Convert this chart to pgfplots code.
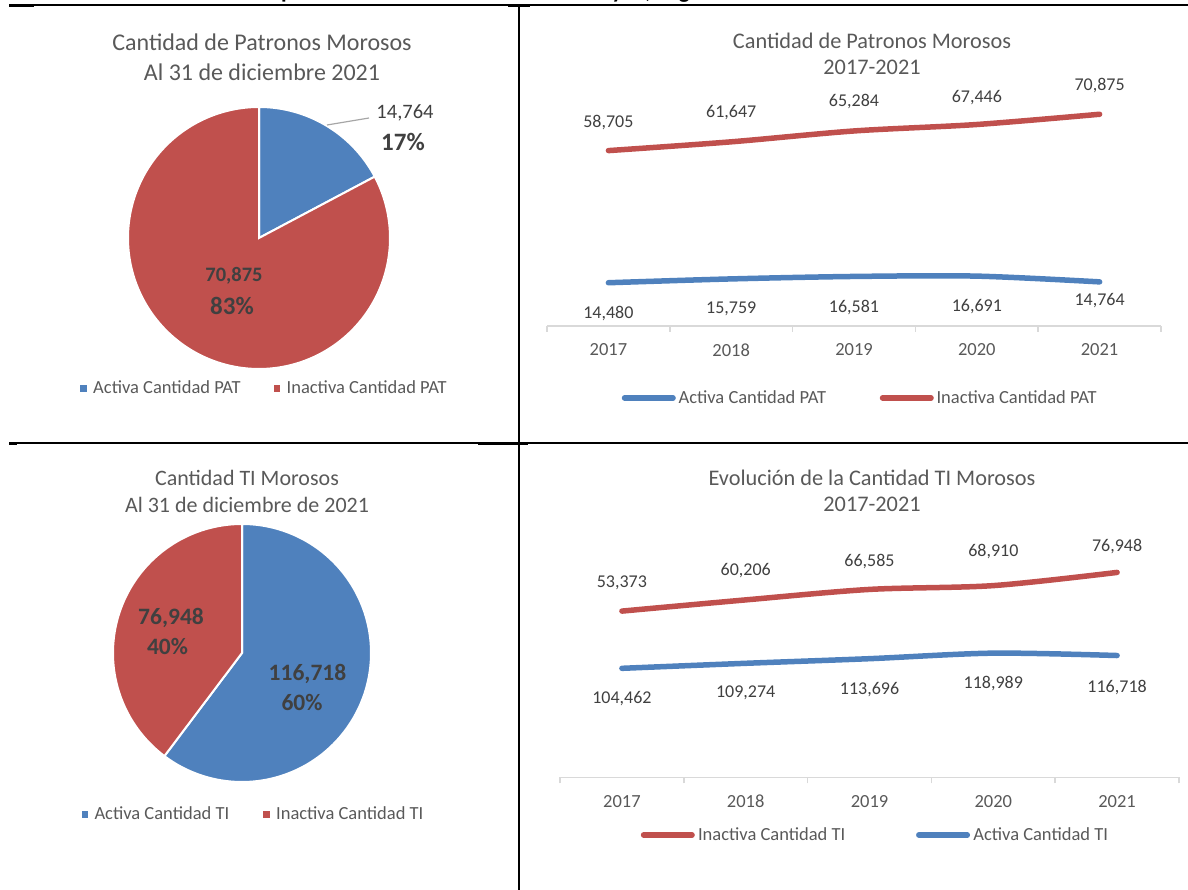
\documentclass[border=0pt]{standalone}
\usepackage{pgfplots}
\usepackage{pgfplotstable}
\pgfplotsset{compat=1.18}
\usepackage{fontspec}
\setmainfont{Carlito}
\definecolor{cblue}{HTML}{4F81BD}
\definecolor{cred}{HTML}{C0504D}
\definecolor{tgray}{HTML}{595959}
\definecolor{dgray}{HTML}{404040}
\definecolor{agray}{HTML}{D9D9D9}
\definecolor{lgray}{HTML}{A6A6A6}
\newcommand{\fs}[1]{\fontsize{#1}{#1}\selectfont}

% pie values
\def\patActiva{14764}
\def\patInactiva{70875}
\def\tiActiva{116718}
\def\tiInactiva{76948}

\pgfplotstableread{
x y dy
0 14480 -30.3
1 15759 -30.1
2 16581 -30.6
3 16691 -30.4
4 14764 -19.1
}\patA
\pgfplotstableread{
x y dy
0 58705 28.5
1 61647 29.7
2 65284 29.8
3 67446 27.3
4 70875 29.1
}\patI
\pgfplotstableread{
x y dy
0 104462 -30.7
1 109274 -29.7
2 113696 -31.3
3 118989 -30.8
4 116718 -31.5
}\tiA
\pgfplotstableread{
x y dy
0 53373 28.1
1 60206 28.9
2 66585 28.4
3 68910 34.6
4 76948 26.4
}\tiI

\pgfplotsset{
  linechart/.style={
    scale only axis, clip=false,
    xmin=-0.5, xmax=4.5,
    /pgf/number format/assume math mode=true,
    legend columns=2,
    legend image code/.code={\draw[##1, line cap=round] (2.75pt,0pt) -- (51.25pt,0pt); \path (0pt,0pt) (54pt,0pt);},
  },
  xaxisstyle/.style={
    axis x line=bottom, axis y line=none,
    axis line style={-, agray, line width=1.5pt},
    xtick={0,1,2,3,4}, xticklabels={2017,2018,2019,2020,2021},
    minor xtick={-0.5,0.5,1.5,2.5,3.5,4.5},
    major tick length=0pt, minor tick length=6pt, tick align=outside,
    tick style={agray, line width=1.5pt},
    xticklabel style={font=\fs{18.5}, text=tgray, anchor=center, yshift=-24pt},
  },
  labline/.style={
    forget plot, line width=5.5pt, line cap=round, smooth, tension=0.5, mark=none,
    visualization depends on={\thisrow{dy}\as\dy},
    nodes near coords={\pgfmathprintnumber[fixed, precision=0, 1000 sep={,}, assume math mode=true]{\pgfplotspointmeta}},
    every node near coord/.append style={font=\fs{18}, text=dgray, anchor=center, yshift=\dy},
  },
  pielegend/.style={
    legend columns=2,
    legend image code/.code={\fill[##1] (0pt,-2.75pt) rectangle (5.5pt,2.75pt);},
  },
}

\begin{document}
\begin{tikzpicture}[x=1pt,y=1pt]

% cut-off document heading
\node[anchor=base, font=\bfseries\fs{23}, text=black, inner sep=0pt] at (607pt,891.5pt)
  {Composición de la Morosidad Patronal y TI, Según Condición Activa o Inactiva};

% table grid
\draw[line width=1.5pt] (9pt,885pt) -- (1188pt,885pt);
\draw[line width=1.5pt] (9pt,447pt) -- (1188pt,447pt);
\draw[line width=1.5pt] (519pt,884pt) -- (519pt,0pt);
\draw[line width=2.5pt] (9pt,884pt) -- (34pt,884pt);
\draw[line width=2.5pt] (508pt,884pt) -- (530pt,884pt);
\draw[line width=2.5pt] (9pt,446.5pt) -- (17pt,446.5pt);
\draw[line width=2.5pt] (478pt,446.5pt) -- (528pt,446.5pt);

% angles (floating point, values are large)
{\pgfkeys{/pgf/fpu=true,/pgf/fpu/output format=fixed}%
 \pgfmathparse{90-360*\patActiva/(\patActiva+\patInactiva)}\xdef\pa{\pgfmathresult}%
 \pgfmathparse{90-360*\tiActiva/(\tiActiva+\tiInactiva)}\xdef\pb{\pgfmathresult}}
\pgfmathsetmacro{\paa}{\pa+360}
\pgfmathsetmacro{\pbb}{\pb+360}

% ---------- Pie 1 ----------
\begin{axis}[at={(259pt,652pt)}, anchor=center, scale only axis, width=262pt, height=262pt,
  hide axis, xmin=-1, xmax=1, ymin=-1, ymax=1, clip=false, pielegend,
  legend style={draw=none, fill=none, inner sep=0pt, column sep=0pt, nodes={inner sep=0pt},
    at={(axis description cs:0.5172,-0.0725)}, anchor=center,
    font=\fs{18.5}, text=tgray,
    /tikz/every odd column/.append style={column sep=7pt},
    /tikz/every even column/.append style={column sep=33pt}}]
\addplot[forget plot, fill=cblue, draw=white, line width=2pt, domain=\pa:90, samples=120, variable=\t]
  ({cos(\t)},{sin(\t)}) -- (axis cs:0,0) -- cycle;
\addplot[forget plot, fill=cred, draw=white, line width=2pt, domain=90:\paa, samples=200, variable=\t]
  ({cos(\t)},{sin(\t)}) -- (axis cs:0,0) -- cycle;
\addlegendimage{cblue}
\addlegendentry{Activa Cantidad PAT}
\addlegendimage{cred}
\addlegendentry{Inactiva Cantidad PAT}
\end{axis}

% ---------- Pie 2 ----------
\begin{axis}[at={(242pt,237pt)}, anchor=center, scale only axis, width=258pt, height=258pt,
  hide axis, xmin=-1, xmax=1, ymin=-1, ymax=1, clip=false, pielegend,
  legend style={draw=none, fill=none, inner sep=0pt, column sep=0pt, nodes={inner sep=0pt},
    at={(axis description cs:0.5407,-0.1240)}, anchor=center,
    font=\fs{18.5}, text=tgray,
    /tikz/every odd column/.append style={column sep=7pt},
    /tikz/every even column/.append style={column sep=34pt}}]
\addplot[forget plot, fill=cblue, draw=white, line width=2pt, domain=\pb:90, samples=200, variable=\t]
  ({cos(\t)},{sin(\t)}) -- (axis cs:0,0) -- cycle;
\addplot[forget plot, fill=cred, draw=white, line width=2pt, domain=90:\pbb, samples=150, variable=\t]
  ({cos(\t)},{sin(\t)}) -- (axis cs:0,0) -- cycle;
\addlegendimage{cblue}
\addlegendentry{Activa Cantidad TI}
\addlegendimage{cred}
\addlegendentry{Inactiva Cantidad TI}
\end{axis}

% ---------- Line chart PAT ----------
\begin{axis}[linechart, xaxisstyle, at={(547pt,564pt)}, anchor=south west, width=614pt, height=239pt,
  ymin=0, ymax=80000,
  legend style={draw=none, fill=none, inner sep=0pt, column sep=0pt, nodes={inner sep=0pt},
    at={(axis description cs:0.5062,-0.301)}, anchor=center,
    font=\fs{18.5}, text=tgray,
    /tikz/every odd column/.append style={column sep=0pt},
    /tikz/every even column/.append style={column sep=51pt}}]
\addplot[labline, cblue] table[x=x,y=y] {\patA};
\addplot[labline, cred] table[x=x,y=y] {\patI};
\addlegendimage{cblue, line width=5.5pt}
\addlegendentry{Activa Cantidad PAT}
\addlegendimage{cred, line width=5.5pt}
\addlegendentry{Inactiva Cantidad PAT}
\end{axis}

% ---------- Line chart TI ----------
\begin{axis}[linechart, xaxisstyle, at={(560pt,112.5pt)}, anchor=south west, width=619pt, height=237pt,
  ymin=0, ymax=226794]
\addplot[labline, cblue] table[x=x,y=y] {\tiA};
\end{axis}
\begin{axis}[linechart, hide axis, at={(560pt,112.5pt)}, anchor=south west, width=619pt, height=237pt,
  ymin=-48049, ymax=96410,
  legend style={draw=none, fill=none, inner sep=0pt, column sep=0pt, nodes={inner sep=0pt},
    at={(axis description cs:0.5057,-0.2426)}, anchor=center,
    font=\fs{18.5}, text=tgray,
    /tikz/every odd column/.append style={column sep=0.5pt},
    /tikz/every even column/.append style={column sep=68pt}}]
\addplot[labline, cred] table[x=x,y=y] {\tiI};
\addlegendimage{cred, line width=5.5pt}
\addlegendentry{Inactiva Cantidad TI}
\addlegendimage{cblue, line width=5.5pt}
\addlegendentry{Activa Cantidad TI}
\end{axis}

% ---------- titles ----------
\node[anchor=base, font=\fs{24}, text=tgray] at (262pt,839.5pt) {Cantidad de Patronos Morosos};
\node[anchor=base, font=\fs{24}, text=tgray] at (262pt,809.5pt) {Al 31 de diciembre 2021};
\node[anchor=base, font=\fs{22.3}, text=tgray] at (872pt,841.5pt) {Cantidad de Patronos Morosos};
\node[anchor=base, font=\fs{22.3}, text=tgray] at (872pt,815pt) {2017-2021};
\node[anchor=base, font=\fs{22}, text=tgray] at (247pt,404pt) {Cantidad TI Morosos};
\node[anchor=base, font=\fs{22}, text=tgray] at (247pt,377pt) {Al 31 de diciembre de 2021};
\node[anchor=base, font=\fs{22.3}, text=tgray] at (872pt,404pt) {Evolución de la Cantidad TI Morosos};
\node[anchor=base, font=\fs{22.3}, text=tgray] at (872pt,378pt) {2017-2021};

% ---------- pie data labels ----------
\draw[lgray, line width=1.2pt] (327pt,765pt) -- (369pt,772pt);
\node[font=\fs{20.5}, text=dgray] at (405pt,777pt) {14,764};
\node[font=\bfseries\fs{25}, text=dgray] at (403pt,748pt) {17\%};
\node[font=\bfseries\fs{20.5}, text=dgray] at (234pt,614pt) {70,875};
\node[font=\bfseries\fs{25}, text=dgray] at (232pt,584pt) {83\%};
\node[font=\bfseries\fs{23.5}, text=dgray] at (171pt,272.5pt) {76,948};
\node[font=\bfseries\fs{23.5}, text=dgray] at (167.5pt,243pt) {40\%};
\node[font=\bfseries\fs{23.5}, text=dgray] at (307.5pt,216.5pt) {116,718};
\node[font=\bfseries\fs{23.5}, text=dgray] at (302pt,187.5pt) {60\%};

\pgfresetboundingbox
\path[use as bounding box] (0pt,0pt) rectangle (1188pt,890pt);
\end{tikzpicture}
\end{document}
